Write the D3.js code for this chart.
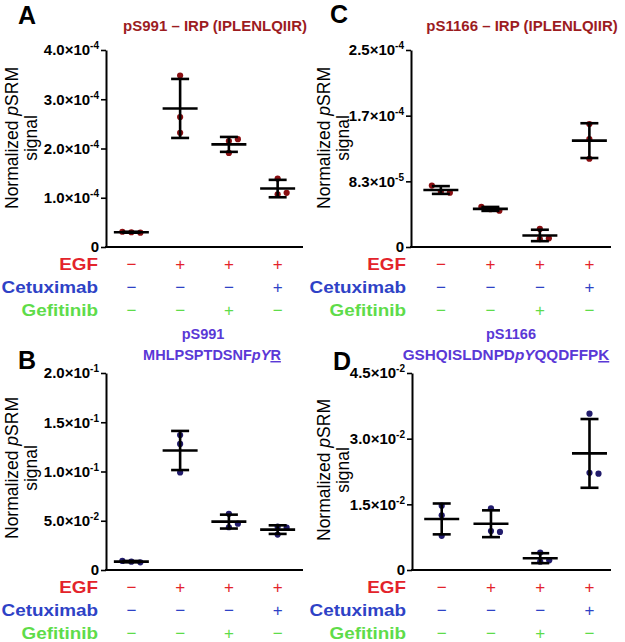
<!DOCTYPE html>
<html>
<head>
<meta charset="utf-8">
<script src="https://cdn.jsdelivr.net/npm/d3@7"></script>
<style>
  html, body { margin: 0; padding: 0; background: #fff; }
  svg { display: block; font-family: Arial, "Liberation Sans", Helvetica, sans-serif; }
</style>
</head>
<body>
<svg id="chart" width="625" height="642"></svg>
<script>
// ---------------- DATA ----------------
const groups = ["g1", "g2", "g3", "g4"];
const egfRow   = ["−", "+", "+", "+"];
const cetuxRow = ["−", "−", "−", "+"];
const gefitRow = ["−", "−", "+", "−"];
const rowLabels = ["EGF", "Cetuximab", "Gefitinib"];

// Panel A: pS991 – IRP (IPLENLQIIR)
const valuesA = [
  [0.30e-4, 0.29e-4, 0.31e-4],
  [3.48e-4, 2.64e-4, 2.32e-4],
  [2.15e-4, 1.91e-4, 2.19e-4],
  [1.07e-4, 1.39e-4, 1.10e-4]
];
const ticksA = [0, 1e-4, 2e-4, 3e-4, 4e-4];

// Panel B: pS991 MHLPSPTDSNFpYR
const valuesB = [
  [0.0085, 0.0078, 0.0092],
  [0.128, 0.099, 0.137],
  [0.057, 0.0434, 0.047],
  [0.036, 0.044, 0.043]
];
const ticksB = [0, 0.05, 0.10, 0.15, 0.20];

// Panel C: pS1166 – IRP (IPLENLQIIR)
const valuesC = [
  [0.70e-4, 0.69e-4, 0.78e-4],
  [0.48e-4, 0.46e-4, 0.51e-4],
  [0.10e-4, 0.11e-4, 0.23e-4],
  [1.56e-4, 1.37e-4, 1.12e-4]
];
const ticksC = [0, 2.5e-4 / 3, 2 * 2.5e-4 / 3, 2.5e-4];

// Panel D: pS1166 GSHQISLDNPDpYQQDFFPK
const valuesD = [
  [0.0147, 0.0125, 0.0078],
  [0.0141, 0.0089, 0.0087],
  [0.0040, 0.0019, 0.0022],
  [0.0357, 0.0222, 0.0220]
];
const ticksD = [0, 0.015, 0.030, 0.045];

// ---------------- STYLE ----------------
const C_RED_DOT = "#8a0f12";
const C_BLUE_DOT = "#221c6c";
const C_TITLE_RED = "#9c1c1f";
const C_TITLE_BLUE = "#5a38d6";
const C_EGF = "#e3232b";
const C_CETUX = "#2e42c6";
const C_GEFIT = "#5edc4a";
const rowColors = [C_EGF, C_CETUX, C_GEFIT];

const svg = d3.select("#chart");

const panels = [
  { letter: "A", lx: 18, ly: 24, x0: 106, x1: 303, yTop: 50, yZero: 247, max: 4e-4,
    ticks: ticksA, values: valuesA, dot: C_RED_DOT, align: 0.5,
    titleColor: C_TITLE_RED,
    title: [{ cx: 215, y: 31, size: 15, segs: [{ t: "pS991 – IRP (IPLENLQIIR)" }] }],
    ylabX: 18, ylabY: 138, labRight: 98, rowY: 270 },
  { letter: "B", lx: 18, ly: 369, x0: 106, x1: 303, yTop: 373, yZero: 570, max: 0.2,
    ticks: ticksB, values: valuesB, dot: C_BLUE_DOT, align: 0.5,
    titleColor: C_TITLE_BLUE,
    title: [{ cx: 203, y: 339, size: 14.5, segs: [{ t: "pS991" }] },
            { cx: 212, y: 360, size: 14.5, segs: [{ t: "MHLPSPTDSNF" }, { t: "pY", it: true }, { t: "R", ul: true }] }],
    ylabX: 18, ylabY: 468, labRight: 98, rowY: 593 },
  { letter: "C", lx: 330, ly: 23, x0: 411, x1: 611, yTop: 50, yZero: 247, max: 2.5e-4,
    ticks: ticksC, values: valuesC, dot: C_RED_DOT, align: 0.58,
    titleColor: C_TITLE_RED,
    title: [{ cx: 522, y: 31, size: 15, segs: [{ t: "pS1166 – IRP (IPLENLQIIR)" }] }],
    ylabX: 330, ylabY: 138, labRight: 406, rowY: 270 },
  { letter: "D", lx: 333, ly: 370, x0: 412, x1: 611, yTop: 373, yZero: 570, max: 0.045,
    ticks: ticksD, values: valuesD, dot: C_BLUE_DOT, align: 0.58,
    titleColor: C_TITLE_BLUE,
    title: [{ cx: 511, y: 339, size: 14.5, segs: [{ t: "pS1166" }] },
            { cx: 506, y: 360, size: 15.3, segs: [{ t: "GSHQISLDNPD" }, { t: "pY", it: true }, { t: "QQDFFP" }, { t: "K", ul: true }] }],
    ylabX: 330, ylabY: 470, labRight: 406, rowY: 593 }
];

function fmtTick(sel, v) {
  sel.text(null);
  if (v === 0) { sel.text("0"); return; }
  const [m, e] = v.toExponential(1).split("e");
  sel.append("tspan").text(m + "×10");
  sel.append("tspan").attr("font-size", 10).attr("dy", -6).text(e.replace("+", ""));
}

panels.forEach(p => {
  const g = svg.append("g");
  const x = d3.scalePoint().domain(groups).range([p.x0, p.x1]).padding(0.52).align(p.align);
  const y = d3.scaleLinear().domain([0, p.max]).range([p.yZero, p.yTop]);

  // panel letter
  g.append("text").attr("x", p.lx).attr("y", p.ly)
    .attr("font-size", 25).attr("font-weight", "bold").attr("fill", "#000").text(p.letter);

  // title
  p.title.forEach(line => {
    const t = g.append("text").attr("x", line.cx).attr("y", line.y)
      .attr("text-anchor", "middle").attr("font-size", line.size)
      .attr("font-weight", "bold").attr("fill", p.titleColor);
    line.segs.forEach(s => {
      const ts = t.append("tspan").text(s.t);
      if (s.it) ts.attr("font-style", "italic");
      if (s.ul) ts.style("text-decoration", "underline");
    });
  });

  // y axis
  const ax = g.append("g").attr("transform", `translate(${p.x0},0)`)
    .call(d3.axisLeft(y).tickValues(p.ticks).tickSize(5).tickSizeOuter(0).tickPadding(2));
  ax.attr("font-size", 15).attr("font-family", "Arial, 'Liberation Sans', sans-serif");
  ax.select(".domain").attr("stroke", "#000").attr("stroke-width", 2);
  ax.selectAll(".tick line").attr("stroke", "#000").attr("stroke-width", 1.6);
  ax.selectAll(".tick text")
    .style("font-size", "15px").style("font-weight", "bold").attr("fill", "#000")
    .each(function (d) { fmtTick(d3.select(this), d); });

  // x axis baseline
  g.append("line").attr("x1", p.x0 - 1).attr("x2", p.x1)
    .attr("y1", y(0)).attr("y2", y(0)).attr("stroke", "#000").attr("stroke-width", 2);

  // y label
  const yl = g.append("g").attr("transform", `translate(${p.ylabX},${p.ylabY}) rotate(-90)`);
  const l1 = yl.append("text").attr("x", 0).attr("y", 0).attr("text-anchor", "middle")
    .attr("font-size", 17.5).attr("fill", "#000");
  l1.append("tspan").text("Normalized ");
  l1.append("tspan").attr("font-style", "italic").text("p");
  l1.append("tspan").text("SRM");
  yl.append("text").attr("x", 0).attr("y", 19).attr("text-anchor", "middle")
    .attr("font-size", 17.5).attr("fill", "#000").text("signal");

  // data: dots, mean and SD
  const R = 3.1, D = 9, TH = 7.5;
  p.values.forEach((vals, gi) => {
    const cx = x(groups[gi]);
    const placed = [];
    vals.forEach(v => {
      const py = y(v);
      const cands = [0, D, -D, 2 * D, -2 * D];
      let off = 0;
      for (const c of cands) {
        if (!placed.some(q => Math.hypot(q.dx - c, q.py - py) < TH)) { off = c; break; }
      }
      placed.push({ dx: off, py });
    });
    g.selectAll(null).data(placed).enter().append("circle")
      .attr("cx", d => cx + d.dx).attr("cy", d => d.py).attr("r", R).attr("fill", p.dot);

    const m = d3.mean(vals), sd = d3.deviation(vals);
    const bars = g.append("g").attr("stroke", "#000").attr("stroke-width", 2.6);
    bars.append("line").attr("x1", cx).attr("x2", cx).attr("y1", y(m + sd)).attr("y2", y(m - sd));
    bars.append("line").attr("x1", cx - 9).attr("x2", cx + 9).attr("y1", y(m + sd)).attr("y2", y(m + sd));
    bars.append("line").attr("x1", cx - 9).attr("x2", cx + 9).attr("y1", y(m - sd)).attr("y2", y(m - sd));
    bars.append("line").attr("x1", cx - 17.5).attr("x2", cx + 17.5).attr("y1", y(m)).attr("y2", y(m));
  });

  // treatment rows
  const rows = [egfRow, cetuxRow, gefitRow];
  rows.forEach((row, ri) => {
    const by = p.rowY + ri * 23;
    g.append("text").attr("transform", `translate(${p.labRight},${by}) scale(1.18,1)`)
      .attr("text-anchor", "end").attr("font-size", 16).attr("font-weight", "bold")
      .attr("fill", rowColors[ri]).text(rowLabels[ri]);
    g.selectAll(null).data(row).enter().append("text")
      .attr("x", (d, i) => x(groups[i])).attr("y", by)
      .attr("text-anchor", "middle").attr("font-size", 17)
      .attr("fill", rowColors[ri]).text(d => d);
  });
});
</script>
</body>
</html>
